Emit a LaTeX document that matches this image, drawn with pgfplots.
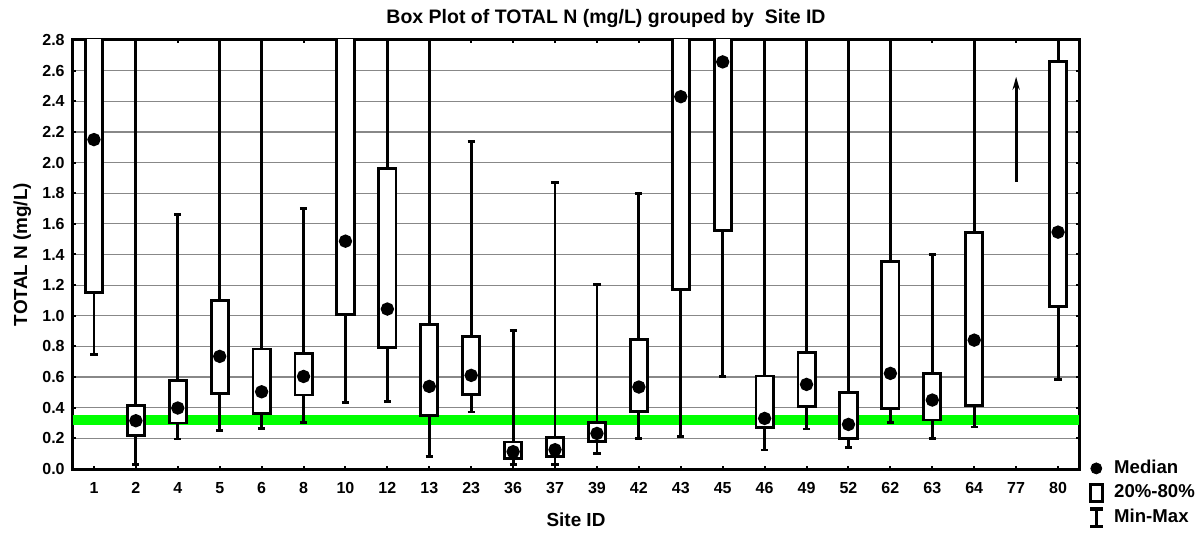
\documentclass[border=0pt]{standalone}
\usepackage{pgfplots}
\pgfplotsset{compat=1.18}
\usepgfplotslibrary{statistics}
\usetikzlibrary{arrows.meta}
\usepackage{fontspec}
\setmainfont{Liberation Sans}

\definecolor{limitgreen}{RGB}{0,255,0}
\definecolor{gridgray}{RGB}{136,136,136}

% one box per site: position, min, 20%, median, 80%, max
\newcommand{\sitebox}[6]{%
  \addplot[boxsty, boxplot prepared={draw position=#1,
      lower whisker=#2, lower quartile=#3, median=#4,
      upper quartile=#5, upper whisker=#6}] coordinates {};}

\begin{document}
\begin{tikzpicture}
\begin{axis}[
  name=ax,
  scale only axis,
  width=503pt, height=214.5pt,
  xmin=-0.5, xmax=23.5,
  ymin=0, ymax=2.8,
  xtick={0,...,23},
  xticklabels={1,2,4,5,6,8,10,12,13,23,36,37,39,42,43,45,46,49,52,62,63,64,77,80},
  ytick={0,0.2,...,2.81},
  /pgf/number format/fixed,
  /pgf/number format/fixed zerofill,
  /pgf/number format/precision=1,
  /pgf/number format/assume math mode=true,
  ticklabel style={font=\bfseries\fontsize{8}{9}\selectfont},
  xticklabel style={anchor=base, inner sep=0pt, yshift=-12.5pt},
  yticklabel style={anchor=east, inner sep=0pt, xshift=-4pt},
  tick align=inside,
  major tick length=1.6pt,
  every tick/.style={black, line width=1pt},
  axis line style={line width=1.5pt, black},
  ymajorgrids,
  major grid style={gridgray, line width=0.6pt},
  every axis title shift=0pt,
  title={Box Plot of TOTAL N (mg/L) grouped by \ Site ID},
  title style={font=\bfseries\fontsize{9.75}{11}\selectfont, at={(axis description cs:0.5298,1.0373)}, anchor=base, inner sep=0pt},
  xlabel={Site ID},
  xlabel style={font=\bfseries\fontsize{9.45}{11}\selectfont, at={(axis description cs:0.5,-0.1352)}, anchor=base, inner sep=0pt},
  ylabel={TOTAL N (mg/L)},
  ylabel style={font=\bfseries\fontsize{9.45}{11}\selectfont, at={(axis description cs:-0.0457,0.5)}, anchor=base, inner sep=0pt},
  boxsty/.style={black, line width=1.45pt, fill=white, solid, forget plot},
  boxplot/draw direction=y,
  boxplot/box extend=0.41,
  boxplot/whisker extend=0.17,
  boxplot/draw/median/.code={\fill[black] (boxplot box cs:\pgfplotsboxplotvalue{median},0.5) circle[radius=2.6pt];},
  legend style={draw=none, fill=none, at={(axis description cs:1,0)}, anchor=north west,
    xshift=4.5pt, yshift=5.5pt, inner sep=0pt, row sep=2.25pt,
    font=\bfseries\fontsize{9.3}{10}\selectfont,
    nodes={inner sep=0pt},
    /tikz/every odd column/.append style={column sep=5pt}},
  legend cell align=left,
]
% limit line
\addplot[limitgreen, line width=4.7pt, forget plot] coordinates {(-0.5,0.32) (23.5,0.32)};

\sitebox{0}{0.75}{1.15}{2.15}{3.4}{3.6}
\sitebox{1}{0.03}{0.22}{0.315}{0.415}{3.6}
\sitebox{2}{0.196}{0.30}{0.398}{0.576}{1.663}
\sitebox{3}{0.252}{0.49}{0.735}{1.10}{3.6}
\sitebox{4}{0.263}{0.361}{0.504}{0.783}{3.6}
\sitebox{5}{0.304}{0.483}{0.604}{0.752}{1.698}
\sitebox{6}{0.435}{1.007}{1.487}{3.4}{3.6}
\sitebox{7}{0.443}{0.793}{1.044}{1.961}{3.6}
\sitebox{8}{0.082}{0.348}{0.539}{0.943}{3.6}
\sitebox{9}{0.372}{0.489}{0.611}{0.863}{2.14}
\sitebox{10}{0.028}{0.067}{0.113}{0.176}{0.902}
\sitebox{11}{0.028}{0.08}{0.126}{0.204}{1.87}
\sitebox{12}{0.104}{0.18}{0.232}{0.304}{1.202}
\sitebox{13}{0.202}{0.378}{0.535}{0.843}{1.80}
\sitebox{14}{0.213}{1.17}{2.43}{3.4}{3.6}
\sitebox{15}{0.602}{1.557}{2.657}{3.4}{3.6}
\sitebox{16}{0.124}{0.271}{0.33}{0.607}{3.6}
\sitebox{17}{0.261}{0.406}{0.552}{0.763}{3.6}
\sitebox{18}{0.141}{0.20}{0.291}{0.502}{3.6}
\sitebox{19}{0.302}{0.396}{0.624}{1.354}{3.6}
\sitebox{20}{0.202}{0.32}{0.45}{0.624}{1.402}
\sitebox{21}{0.274}{0.415}{0.841}{1.543}{3.6}
\sitebox{23}{0.583}{1.061}{1.546}{2.662}{3.6}

% site 77: values above the plotted range
\addplot[black, line width=1.45pt, forget plot, -{Stealth[length=6.5pt, width=3.6pt]}] coordinates {(22,1.876) (22,2.56)};

\addlegendimage{legend image code/.code={%
  \path[draw=none, fill=none] (0pt,-5pt) rectangle (7.5pt,5pt);
  \fill[black] (3.75pt,0pt) circle[radius=2.75pt];}}
\addlegendentry{Median}
\addlegendimage{legend image code/.code={%
  \path[draw=none, fill=none] (0pt,-5pt) rectangle (7.5pt,5pt);
  \draw[black, fill=white, line width=1.4pt] (0.7pt,-4.3pt) rectangle (6.8pt,4.3pt);}}
\addlegendentry{20\%-80\%}
\addlegendimage{legend image code/.code={%
  \path[draw=none, fill=none] (0pt,-5pt) rectangle (7.5pt,5pt);
  \draw[black, line width=1.4pt] (3.75pt,-4.3pt) -- (3.75pt,4.3pt);
  \draw[black, line width=1.6pt] (0.6pt,-4.3pt) -- (6.9pt,-4.3pt);
  \draw[black, line width=1.6pt] (0.6pt,4.3pt) -- (6.9pt,4.3pt);}}
\addlegendentry{Min-Max}
\end{axis}
\pgfresetboundingbox
\path[use as bounding box] ([xshift=-36.5pt,yshift=-32.5pt]ax.south west) rectangle ([xshift=62pt,yshift=20pt]ax.north east);
\end{tikzpicture}
\end{document}
